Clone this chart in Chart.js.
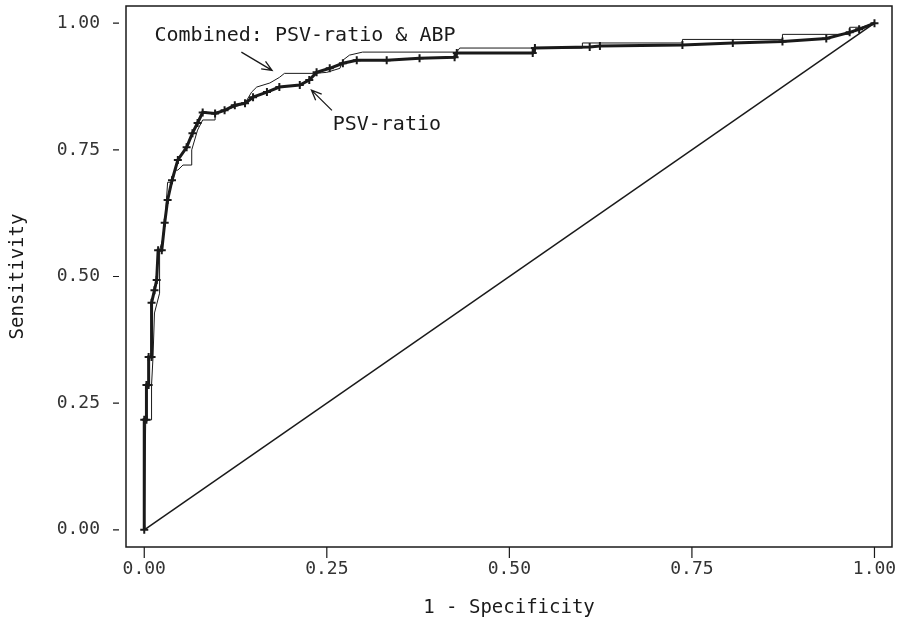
<!DOCTYPE html>
<html>
<head>
<meta charset="utf-8">
<script src="https://cdn.jsdelivr.net/npm/chart.js@4/dist/chart.umd.min.js"></script>
<style>
  html, body { margin: 0; padding: 0; background: #fff; }
  #wrap { width: 898px; height: 624px; }
</style>
</head>
<body>
<div id="wrap"><canvas id="roc"></canvas></div>
<script>
// tick labels for both axes
const tickVals = [0, 0.25, 0.5, 0.75, 1];

// PSV-ratio ROC curve (1 - specificity, sensitivity)
const psvX = [0, 0, 0.003, 0.003, 0.006, 0.006, 0.010, 0.010, 0.014, 0.017, 0.019, 0.024,
  0.028, 0.032, 0.038, 0.046, 0.058, 0.066, 0.073, 0.080, 0.097, 0.110, 0.124, 0.138,
  0.149, 0.168, 0.185, 0.213, 0.226, 0.236, 0.254, 0.272, 0.291, 0.332, 0.377, 0.425,
  0.428, 0.532, 0.535, 0.610, 0.624, 0.737, 0.806, 0.874, 0.934, 0.966, 0.979, 1.0];
const psvY = [0, 0.217, 0.217, 0.286, 0.286, 0.341, 0.341, 0.448, 0.473, 0.493, 0.552, 0.552,
  0.606, 0.651, 0.690, 0.730, 0.755, 0.783, 0.803, 0.824, 0.822, 0.828, 0.838, 0.842,
  0.854, 0.864, 0.874, 0.878, 0.888, 0.903, 0.911, 0.921, 0.927, 0.927, 0.931, 0.933,
  0.941, 0.941, 0.951, 0.953, 0.955, 0.957, 0.961, 0.964, 0.970, 0.982, 0.988, 1.0];

// Combined PSV-ratio & ABP curve
const combX = [0, 0.002, 0.010, 0.010, 0.012, 0.014, 0.021, 0.021, 0.025, 0.029, 0.032, 0.039,
  0.042, 0.046, 0.053, 0.065, 0.065, 0.073, 0.080, 0.097, 0.097, 0.110, 0.138, 0.147,
  0.154, 0.172, 0.185, 0.192, 0.233, 0.250, 0.268, 0.272, 0.281, 0.299, 0.428, 0.432,
  0.600, 0.600, 0.737, 0.737, 0.874, 0.874, 0.966, 0.966, 0.982, 1.0];
const combY = [0, 0.217, 0.217, 0.286, 0.341, 0.428, 0.467, 0.552, 0.572, 0.621, 0.686, 0.686,
  0.710, 0.710, 0.720, 0.720, 0.750, 0.789, 0.809, 0.809, 0.824, 0.828, 0.842, 0.864,
  0.874, 0.882, 0.893, 0.901, 0.901, 0.903, 0.911, 0.927, 0.937, 0.943, 0.943, 0.951,
  0.951, 0.961, 0.961, 0.968, 0.968, 0.978, 0.978, 0.992, 0.992, 1.0];

// chance line
const diagX = [0, 1];
const diagY = [0, 1];

const ink = '#1a1a1a';
const mono = '"DejaVu Sans Mono", "Liberation Mono", monospace';

function pts(xs, ys) { return xs.map((x, i) => ({ x: x, y: ys[i] })); }

// box, tick marks, labels and arrows
const decorations = {
  id: 'decorations',
  afterDraw(chart) {
    const { ctx, chartArea: a, scales: { x, y } } = chart;
    ctx.save();
    ctx.strokeStyle = ink;
    ctx.lineWidth = 1.5;
    ctx.strokeRect(a.left, a.top, a.right - a.left, a.bottom - a.top);
    ctx.lineWidth = 1.2;
    ctx.beginPath();
    tickVals.forEach(v => {
      const py = y.getPixelForValue(v);
      ctx.moveTo(a.left - 13, py); ctx.lineTo(a.left - 7, py);
      const px = x.getPixelForValue(v);
      ctx.moveTo(px, a.bottom); ctx.lineTo(px, a.bottom + 11);
    });
    ctx.stroke();

    ctx.fillStyle = ink;
    ctx.font = '20px ' + mono;
    ctx.textBaseline = 'middle';
    ctx.fillText('Combined: PSV-ratio & ABP', x.getPixelForValue(0.014), y.getPixelForValue(0.976));
    ctx.fillText('PSV-ratio', x.getPixelForValue(0.258), y.getPixelForValue(0.799));

    function arrow(x0, y0, x1, y1) {
      const p0 = [x.getPixelForValue(x0), y.getPixelForValue(y0)];
      const p1 = [x.getPixelForValue(x1), y.getPixelForValue(y1)];
      const ang = Math.atan2(p1[1] - p0[1], p1[0] - p0[0]);
      ctx.beginPath();
      ctx.moveTo(p0[0], p0[1]); ctx.lineTo(p1[0], p1[1]);
      ctx.moveTo(p1[0] - 11 * Math.cos(ang - 0.4), p1[1] - 11 * Math.sin(ang - 0.4));
      ctx.lineTo(p1[0], p1[1]);
      ctx.lineTo(p1[0] - 11 * Math.cos(ang + 0.4), p1[1] - 11 * Math.sin(ang + 0.4));
      ctx.stroke();
    }
    ctx.lineWidth = 1.3;
    arrow(0.133, 0.943, 0.175, 0.907);
    arrow(0.257, 0.828, 0.229, 0.868);
    ctx.restore();
  }
};

new Chart(document.getElementById('roc'), {
  type: 'scatter',
  data: {
    datasets: [
      {
        label: 'Combined: PSV-ratio & ABP',
        data: pts(combX, combY),
        showLine: true,
        borderColor: ink,
        borderWidth: 1,
        pointRadius: 0,
        fill: false
      },
      {
        label: 'PSV-ratio',
        data: pts(psvX, psvY),
        showLine: true,
        borderColor: ink,
        borderWidth: 3,
        pointStyle: 'cross',
        pointRadius: 4,
        pointBorderWidth: 2,
        pointBorderColor: ink,
        fill: false
      },
      {
        label: 'Reference',
        data: pts(diagX, diagY),
        showLine: true,
        borderColor: ink,
        borderWidth: 1.5,
        pointRadius: 0,
        fill: false
      }
    ]
  },
  options: {
    responsive: true,
    maintainAspectRatio: false,
    animation: false,
    layout: { padding: { left: 0, right: 6, top: 6, bottom: 0 } },
    plugins: { legend: { display: false }, tooltip: { enabled: false } },
    scales: {
      x: {
        type: 'linear',
        min: -0.025, max: 1.024,
        afterFit: s => { s.height = 77; s.paddingLeft = 0; s.paddingRight = 0; },
        afterBuildTicks: s => { s.ticks = tickVals.map(v => ({ value: v })); },
        grid: { display: false, drawTicks: false },
        border: { display: false },
        ticks: {
          padding: 12,
          color: '#333',
          font: { family: mono, size: 18 },
          callback: v => v.toFixed(2)
        },
        title: {
          display: true,
          text: '1 - Specificity',
          color: ink,
          font: { family: mono, size: 19 },
          padding: { top: 0, bottom: 5 }
        }
      },
      y: {
        type: 'linear',
        min: -0.034, max: 1.034,
        afterFit: s => { s.width = 126; s.paddingTop = 0; s.paddingBottom = 0; },
        afterBuildTicks: s => { s.ticks = tickVals.map(v => ({ value: v })); },
        grid: { display: false, drawTicks: false },
        border: { display: false },
        ticks: {
          padding: 26,
          color: '#333',
          font: { family: mono, size: 18 },
          callback: v => v.toFixed(2)
        },
        title: {
          display: true,
          text: 'Sensitivity',
          color: ink,
          font: { family: mono, size: 19 },
          padding: { top: 7, bottom: 0 }
        }
      }
    }
  },
  plugins: [decorations]
});
</script>
</body>
</html>
